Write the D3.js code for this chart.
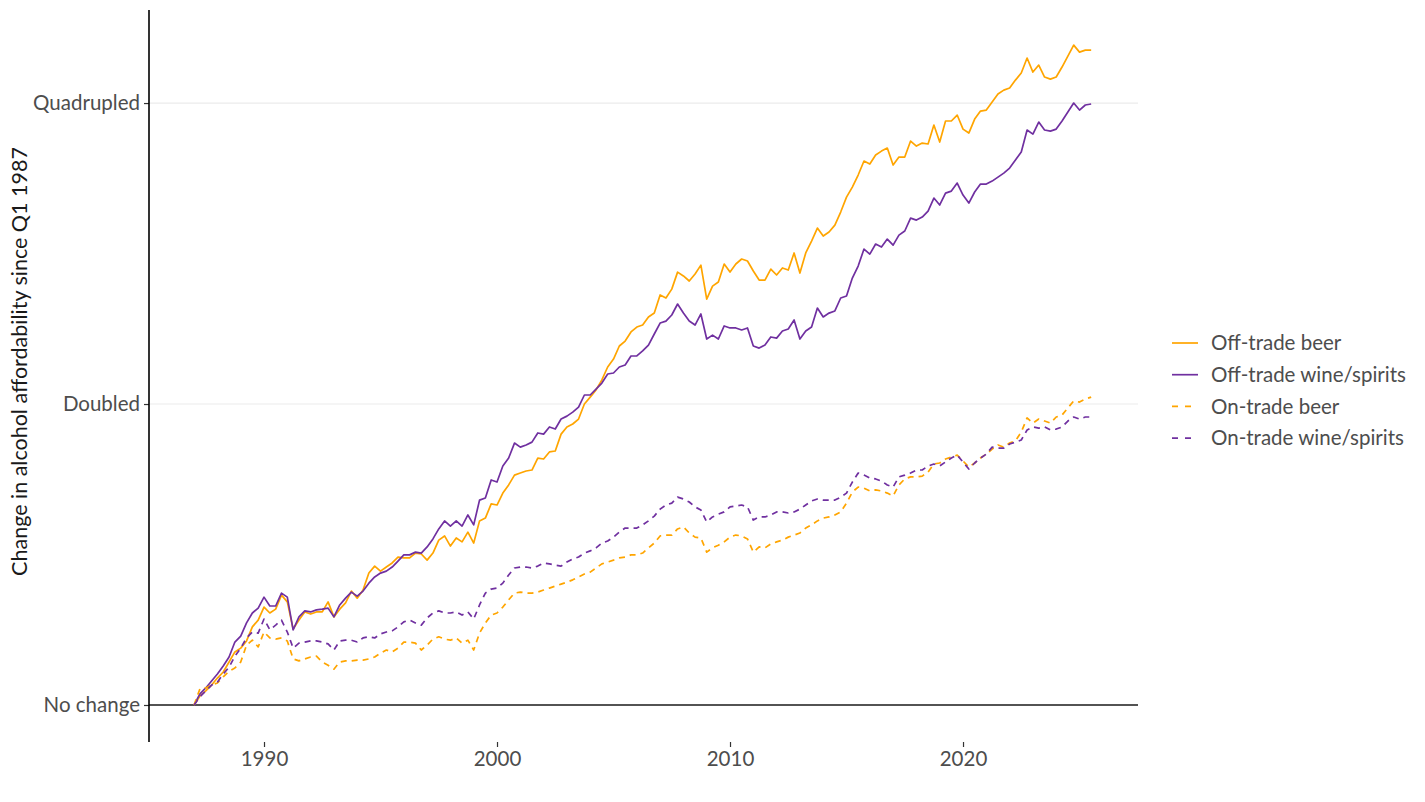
<!DOCTYPE html>
<html>
<head>
<meta charset="utf-8">
<script src="https://cdn.jsdelivr.net/npm/d3@7"></script>
<style>
html,body{margin:0;padding:0;background:#fff;}
svg{display:block;font-family:Lato,"Open Sans",sans-serif;}
</style>
</head>
<body>
<svg id="chart" width="1425" height="802"></svg>
<script>
// Quarterly, 1987 Q1 onwards; index relative to Q1 1987 (1 = no change)
const startYear = 1987;
const offTradeBeer = [1.000,1.021,1.033,1.047,1.064,1.079,1.104,1.130,1.140,1.159,1.197,1.216,1.253,1.236,1.247,1.288,1.268,1.191,1.216,1.239,1.233,1.239,1.239,1.268,1.225,1.247,1.265,
1.300,1.279,1.303,1.355,1.377,1.361,1.374,1.387,1.406,1.403,1.403,1.419,1.416,1.396,1.419,1.462,1.476,1.442,1.469,1.456,1.489,1.452,1.528,1.538,
1.589,1.585,1.629,1.660,1.698,1.706,1.714,1.718,1.766,1.762,1.791,1.795,1.866,1.897,1.910,1.932,2.000,2.032,2.066,2.114,2.178,2.218,2.286,2.312,2.361,2.388,2.399,
2.444,2.466,2.571,2.553,2.606,2.710,2.686,2.655,2.698,2.754,2.547,2.624,2.649,2.761,2.710,2.761,2.793,2.780,2.717,2.661,2.661,2.729,2.692,2.736,2.723,2.832,
2.704,2.832,2.911,2.999,2.945,2.972,3.020,3.112,3.221,3.296,3.389,3.500,3.476,3.549,3.581,3.606,3.468,3.532,3.532,3.665,3.623,3.648,3.640,3.802,3.656,3.838,3.838,
3.891,3.767,3.733,3.855,3.927,3.936,4.009,4.084,4.121,4.141,4.217,4.286,4.437,4.296,4.366,4.247,4.227,4.247,4.346,4.457,4.571,4.498,4.519,4.519];
const offTradeWine = [1.000,1.026,1.040,1.057,1.074,1.094,1.117,1.156,1.172,1.208,1.236,1.250,1.282,1.256,1.256,1.294,1.282,1.189,1.225,1.242,1.239,1.245,1.247,1.250,1.225,1.259,1.279,
1.297,1.285,1.300,1.324,1.343,1.355,1.361,1.374,1.393,1.413,1.413,1.422,1.419,1.439,1.466,1.500,1.528,1.510,1.528,1.510,1.549,1.514,1.603,1.611,
1.679,1.671,1.734,1.766,1.828,1.811,1.820,1.832,1.871,1.866,1.897,1.888,1.932,1.945,1.963,1.986,2.042,2.042,2.070,2.099,2.143,2.148,2.178,2.188,2.234,2.234,2.260,
2.291,2.350,2.410,2.421,2.455,2.518,2.466,2.421,2.399,2.461,2.323,2.344,2.323,2.394,2.383,2.383,2.372,2.383,2.286,2.275,2.291,2.334,2.328,2.366,2.377,2.427,
2.323,2.366,2.388,2.495,2.444,2.466,2.478,2.553,2.565,2.673,2.748,2.858,2.825,2.891,2.871,2.924,2.884,2.951,2.979,3.069,3.055,3.076,3.119,3.214,3.163,3.251,3.266,
3.327,3.236,3.177,3.259,3.319,3.319,3.342,3.373,3.404,3.444,3.508,3.573,3.759,3.724,3.829,3.759,3.750,3.767,3.838,3.918,4.000,3.936,3.982,3.991];
const onTradeBeer = [1.000,1.038,1.040,1.047,1.052,1.067,1.081,1.089,1.104,1.148,1.161,1.143,1.183,1.167,1.164,1.167,1.159,1.112,1.107,1.112,1.117,1.119,1.104,1.096,1.086,1.104,1.107,
1.107,1.109,1.109,1.112,1.117,1.127,1.135,1.130,1.140,1.156,1.156,1.153,1.135,1.148,1.164,1.170,1.164,1.161,1.167,1.153,1.161,1.135,1.180,1.208,
1.230,1.236,1.253,1.274,1.294,1.297,1.294,1.294,1.297,1.303,1.309,1.315,1.321,1.327,1.334,1.343,1.352,1.358,1.371,1.384,1.390,1.396,1.403,1.406,1.413,1.413,1.419,
1.436,1.452,1.476,1.479,1.479,1.500,1.507,1.486,1.472,1.469,1.422,1.436,1.445,1.456,1.472,1.479,1.476,1.466,1.422,1.439,1.436,1.449,1.456,1.462,1.472,1.479,
1.486,1.503,1.514,1.528,1.538,1.542,1.549,1.560,1.592,1.633,1.652,1.648,1.637,1.641,1.637,1.629,1.618,1.660,1.683,1.691,1.691,1.694,1.710,1.742,1.746,1.762,1.770,
1.778,1.754,1.730,1.746,1.766,1.782,1.803,1.820,1.811,1.828,1.837,1.875,1.937,1.914,1.932,1.923,1.914,1.941,1.950,1.982,2.014,2.009,2.023,2.032];
const onTradeWine = [1.000,1.019,1.033,1.047,1.054,1.074,1.091,1.119,1.140,1.167,1.183,1.180,1.219,1.189,1.202,1.216,1.183,1.140,1.153,1.156,1.159,1.159,1.156,1.151,1.135,1.159,1.161,
1.161,1.156,1.167,1.170,1.167,1.178,1.183,1.186,1.197,1.211,1.216,1.208,1.202,1.222,1.236,1.242,1.236,1.236,1.239,1.230,1.239,1.219,1.259,1.294,
1.306,1.309,1.324,1.349,1.371,1.374,1.374,1.371,1.377,1.387,1.384,1.380,1.377,1.390,1.400,1.406,1.419,1.426,1.436,1.452,1.459,1.472,1.489,1.503,1.503,1.503,1.514,
1.528,1.545,1.570,1.585,1.592,1.614,1.607,1.596,1.578,1.567,1.524,1.542,1.552,1.560,1.578,1.581,1.585,1.578,1.531,1.542,1.542,1.549,1.560,1.560,1.556,1.560,
1.570,1.585,1.600,1.607,1.603,1.603,1.603,1.614,1.629,1.671,1.706,1.698,1.687,1.683,1.675,1.660,1.652,1.691,1.698,1.706,1.718,1.718,1.734,1.742,1.734,1.750,1.766,
1.778,1.750,1.722,1.746,1.766,1.782,1.811,1.807,1.807,1.824,1.832,1.841,1.884,1.897,1.892,1.897,1.884,1.888,1.897,1.923,1.941,1.932,1.941,1.941];

const seriesNames = ["Off-trade beer","Off-trade wine/spirits","On-trade beer","On-trade wine/spirits"];
const seriesValues = [offTradeBeer, offTradeWine, onTradeBeer, onTradeWine];
const seriesColors = ["#FFA500","#7030A0","#FFA500","#7030A0"];
const seriesDashed = [false,false,true,true];
const yTickValues = [1,2,4];
const yTickLabels = ["No change","Doubled","Quadrupled"];
const xTickValues = [1990,2000,2010,2020];
const yTitle = "Change in alcohol affordability since Q1 1987";

const svg = d3.select("#chart");
const pLeft = 149, pRight = 1138, pTop = 10, pBottom = 742;
const tickFont = "20.5px", titleFont = "21.5px";

const x = d3.scaleLinear().domain([1985.064, 2027.51]).range([pLeft, pRight]);
const y = d3.scaleLog().base(2).domain([0.9183, 4.956]).range([pBottom, pTop]);

// gridlines
svg.append("g").selectAll("line").data(yTickValues.slice(1)).join("line")
  .attr("x1", pLeft).attr("x2", pRight)
  .attr("y1", d => y(d)).attr("y2", d => y(d))
  .attr("stroke", "#ebebeb").attr("stroke-width", 1.2);

// baseline at no change
svg.append("line")
  .attr("x1", pLeft).attr("x2", pRight)
  .attr("y1", y(1)).attr("y2", y(1))
  .attr("stroke", "#1a1a1a").attr("stroke-width", 1.6);

// series lines
const line = d3.line()
  .x((d, i) => x(startYear + i / 4))
  .y(d => y(d));

seriesValues.forEach((vals, k) => {
  svg.append("path")
    .datum(vals)
    .attr("d", line)
    .attr("fill", "none")
    .attr("stroke", seriesColors[k])
    .attr("stroke-width", 1.7)
    .attr("stroke-linejoin", "round")
    .attr("stroke-dasharray", seriesDashed[k] ? "6,5" : null);
});

// y axis
const yAxis = d3.axisLeft(y).tickValues(yTickValues)
  .tickFormat((d, i) => yTickLabels[i]).tickSize(5).tickPadding(4);
const gy = svg.append("g").attr("transform", `translate(${pLeft},0)`).call(yAxis);
gy.select(".domain").remove();
gy.selectAll(".tick line").attr("stroke", "#333").attr("stroke-width", 1.2);
gy.selectAll(".tick text").attr("fill", "#4d4d4d").style("font-size", tickFont).style("font-family", "Lato");
svg.append("line").attr("x1", pLeft).attr("x2", pLeft).attr("y1", pTop).attr("y2", pBottom)
  .attr("stroke", "#000").attr("stroke-width", 1.6);

// x axis
const xAxis = d3.axisBottom(x).tickValues(xTickValues).tickFormat(d3.format("d")).tickSize(5).tickPadding(4);
const gx = svg.append("g").attr("transform", `translate(0,${pBottom})`).call(xAxis);
gx.select(".domain").remove();
gx.selectAll(".tick line").attr("stroke", "#333").attr("stroke-width", 1.2);
gx.selectAll(".tick text").attr("fill", "#4d4d4d").style("font-size", tickFont).style("font-family", "Lato");

// y title
svg.append("text")
  .attr("transform", `translate(27,361.5) rotate(-90)`)
  .attr("text-anchor", "middle")
  .attr("fill", "#1a1a1a")
  .style("font-size", titleFont).style("font-family", "Lato")
  .text(yTitle);

// legend
const legend = svg.append("g").attr("transform", "translate(1172,343)");
seriesNames.forEach((name, k) => {
  const g = legend.append("g").attr("transform", `translate(0,${k * 31.7})`);
  g.append("line").attr("x1", 0).attr("x2", 26).attr("y1", 0).attr("y2", 0)
    .attr("stroke", seriesColors[k]).attr("stroke-width", 1.7)
    .attr("stroke-dasharray", seriesDashed[k] ? "6,7" : null);
  g.append("text").attr("x", 39).attr("y", 0).attr("dy", "0.35em")
    .attr("fill", "#4d4d4d").style("font-size", tickFont).style("font-family", "Lato")
    .text(name);
});
</script>
</body>
</html>
